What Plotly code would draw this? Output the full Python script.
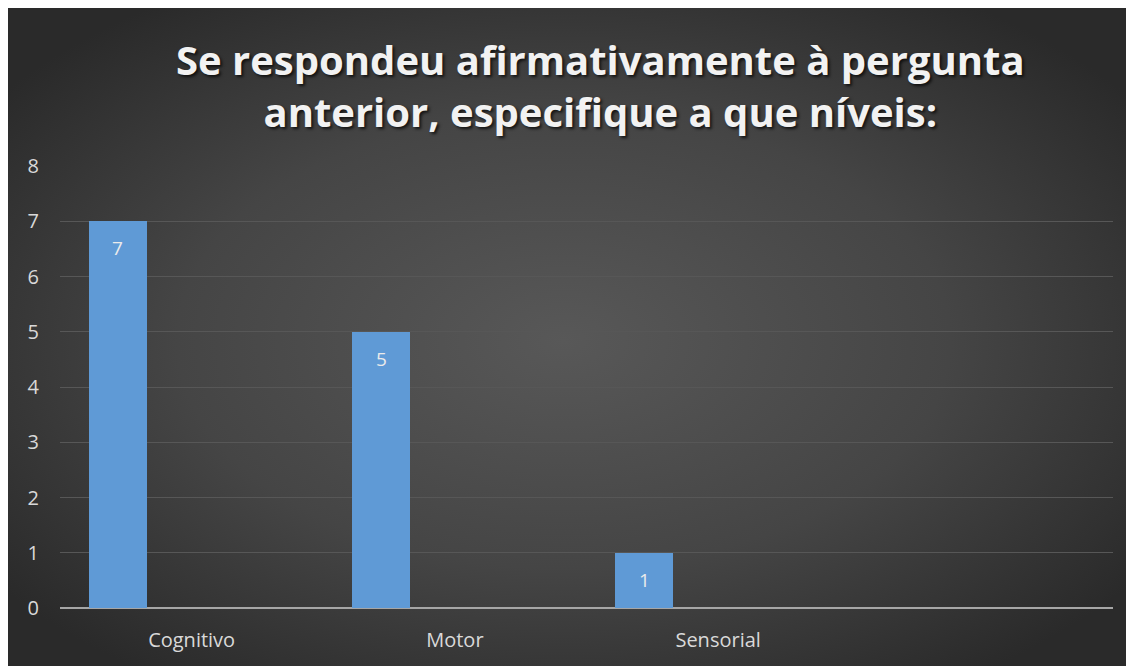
import plotly.graph_objects as go
import base64

categories = ["Cognitivo", "Motor", "Sensorial", ""]
values = [7, 5, 1]
y_ticks = [0, 1, 2, 3, 4, 5, 6, 7, 8]
title_lines = ["Se respondeu afirmativamente à pergunta", "anterior, especifique a que níveis:"]

# page body has an 8px margin; the figure origin lands at (8, 8)
W, H = 1134, 666
L, R, T, B = 52, 29, 158, 66
pw, ph = W - L - R, H - T - B

svg = """<svg xmlns='http://www.w3.org/2000/svg' width='1134' height='666' viewBox='0 0 1134 666'>
<defs><radialGradient id='g' cx='0.49' cy='0.5' r='0.62' gradientUnits='objectBoundingBox'>
<stop offset='0' stop-color='#585858'/><stop offset='0.55' stop-color='#454545'/><stop offset='1' stop-color='#2a2a2a'/>
</radialGradient></defs><rect width='1134' height='666' fill='url(#g)'/></svg>"""
bg = "data:image/svg+xml;base64," + base64.b64encode(svg.encode()).decode()

x_pos = list(range(len(values)))
bar_w, bar_off = 0.22, -0.39

fig = go.Figure()
fig.add_trace(go.Bar(
    x=x_pos, y=values,
    width=bar_w, offset=bar_off,
    marker=dict(color="#5f9ad6", line=dict(width=0)),
    hoverinfo="x+y",
))

annotations = [dict(
    text="<br>".join(title_lines), xref="paper", yref="paper",
    x=(592 - L) / pw, y=(H - B - 78) / ph, xanchor="center", yanchor="middle",
    showarrow=False,
    font=dict(family="Open Sans", size=40, color="#f2f2f2", weight="bold",
              shadow="2px 2px 3px rgba(0,0,0,0.7)"),
)]
for xi, v in zip(x_pos, values):
    annotations.append(dict(
        x=xi + bar_off + bar_w / 2, y=v, xref="x", yref="y",
        text=str(v), showarrow=False, yanchor="middle", yshift=-27,
        font=dict(family="Open Sans", size=19, color="#ebebeb"),
    ))

fig.update_layout(
    width=W, height=H,
    margin=dict(l=L, r=R, t=T, b=B),
    paper_bgcolor="#2e2e2e",
    plot_bgcolor="rgba(0,0,0,0)",
    showlegend=False,
    bargap=0,
    images=[dict(source=bg, xref="paper", yref="paper",
                 x=-L / pw, y=(H - B) / ph,
                 sizex=W / pw, sizey=H / ph,
                 sizing="stretch", xanchor="left", yanchor="top", layer="below")],
    annotations=annotations,
    xaxis=dict(
        range=[-0.5, len(categories) - 0.5],
        tickmode="array", tickvals=list(range(len(categories))), ticktext=categories,
        tickfont=dict(family="Open Sans", size=20, color="#d9d9d9"),
        showgrid=False, zeroline=False, showline=False, ticks="", ticklen=0,
        ticklabelstandoff=18,
    ),
    yaxis=dict(
        range=[0, 8], tickmode="array", tickvals=y_ticks,
        tickfont=dict(family="Open Sans", size=20, color="#d9d9d9"),
        showgrid=True, gridcolor="#575757", gridwidth=1,
        zeroline=True, zerolinecolor="#a6a6a6", zerolinewidth=2,
        showline=False, ticks="", ticklabelstandoff=20,
    ),
)

fig.write_html("out.html")
